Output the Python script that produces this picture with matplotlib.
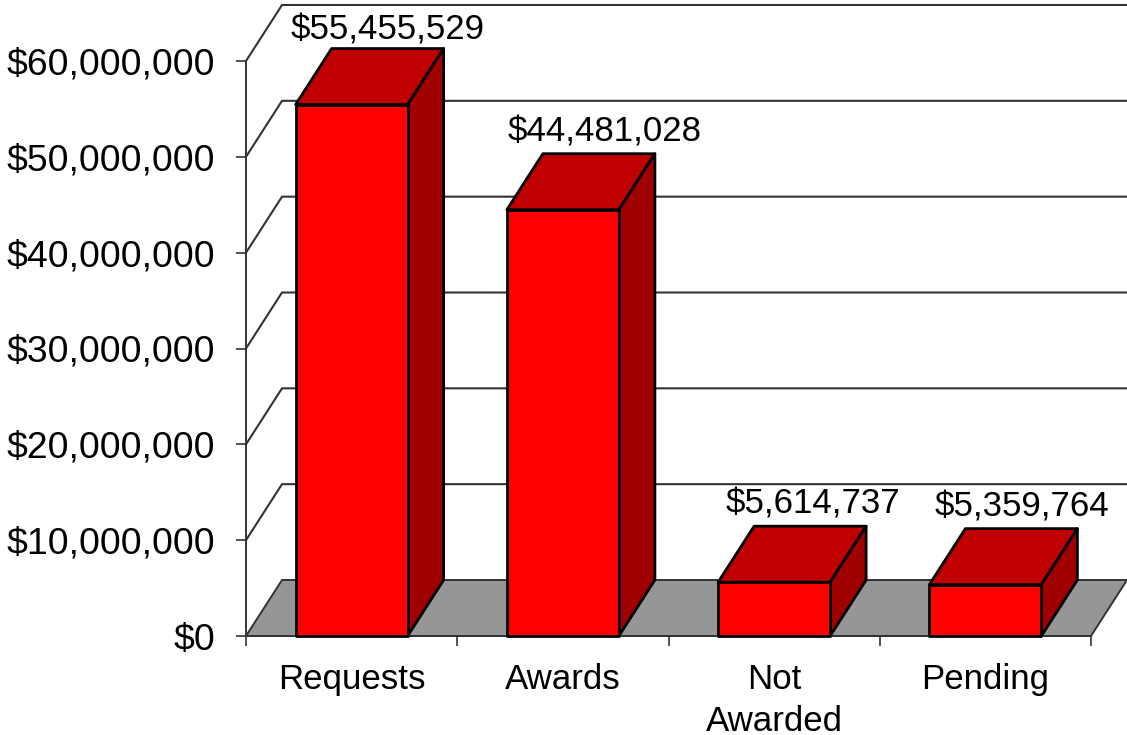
import matplotlib
matplotlib.use("Agg")
import matplotlib.pyplot as plt
from matplotlib.patches import Polygon

plt.rcParams['font.family'] = ['Liberation Sans', 'DejaVu Sans']

categories = ["Requests", "Awards", "Not\nAwarded", "Pending"]
values = [55455529, 44481028, 5614737, 5359764]
value_labels = ["$55,455,529", "$44,481,028", "$5,614,737", "$5,359,764"]
y_ticks = [0, 10000000, 20000000, 30000000, 40000000, 50000000, 60000000]
y_tick_labels = ["$0", "$10,000,000", "$20,000,000", "$30,000,000",
                 "$40,000,000", "$50,000,000", "$60,000,000"]

# fake 3d depth, in data units (36px across, 56px up)
depth_x = 36 / 211.25
depth_y = 56 * 60000000 / 575
bar_width = 112 / 211.25
# small shifts of the value labels, in pixels
label_dx = [0, 6, 2.5, 1]
label_dy = [19, 22, 22, 22]

FRONT = "#ff0000"
TOP = "#c00000"
SIDE = "#a00000"
FLOOR = "#969696"
GRID = "#333333"

fig = plt.figure(figsize=(11.27, 7.35), dpi=100)
ax = fig.add_axes([246 / 1127, 99 / 735, 845 / 1127, 575 / 735])
ax.set_xlim(0, 4)
ax.set_ylim(0, 60000000)


def add_poly(points, color, edge, lw, z):
    ax.add_patch(Polygon(points, closed=True, facecolor=color, edgecolor=edge,
                         linewidth=lw, joinstyle="round", clip_on=False, zorder=z))


# back wall lines
for y in y_ticks[1:]:
    ax.plot([0, depth_x, 4 + depth_x], [y, y + depth_y, y + depth_y],
            color=GRID, lw=1.5, clip_on=False, zorder=1)

# floor
add_poly([(0, 0), (depth_x, depth_y), (4 + depth_x, depth_y), (4, 0)], FLOOR, GRID, 1.4, 2)

# bars
for i, v in enumerate(values):
    x0 = i + (1 - bar_width) / 2
    x1 = x0 + bar_width
    add_poly([(x0, v), (x0 + depth_x, v + depth_y), (x1 + depth_x, v + depth_y), (x1, v)],
             TOP, "black", 2, 3)
    add_poly([(x1, 0), (x1 + depth_x, depth_y), (x1 + depth_x, v + depth_y), (x1, v)],
             SIDE, "black", 2, 3)
    add_poly([(x0, 0), (x1, 0), (x1, v), (x0, v)], FRONT, "black", 2, 4)
    ax.annotate(value_labels[i], xy=(i + 0.5 + depth_x, v + depth_y),
                xytext=(label_dx[i], label_dy[i]), textcoords="offset pixels",
                ha="center", va="center", fontsize=25.1, color="black", zorder=6,
                annotation_clip=False)

ax.spines["top"].set_visible(False)
ax.spines["right"].set_visible(False)
ax.spines["left"].set_color(GRID)
ax.spines["left"].set_linewidth(1.4)
ax.spines["bottom"].set_color(GRID)
ax.spines["bottom"].set_linewidth(1.4)

ax.set_yticks(y_ticks)
ax.set_yticklabels(y_tick_labels, fontsize=26.9)
ax.tick_params(axis="y", length=7.2, width=1.2, color=GRID, pad=15)

ax.set_xticks([0, 1, 2, 3, 4])
ax.set_xticklabels([])
ax.set_xticks([0.5, 1.5, 2.5, 3.5], minor=True)
ax.set_xticklabels(categories, minor=True, fontsize=25.1, linespacing=1.35)
ax.tick_params(axis="x", which="major", length=7.2, width=1.2, color=GRID)
ax.tick_params(axis="x", which="minor", length=0, pad=19.2)

fig.savefig("out.png", dpi=100)
